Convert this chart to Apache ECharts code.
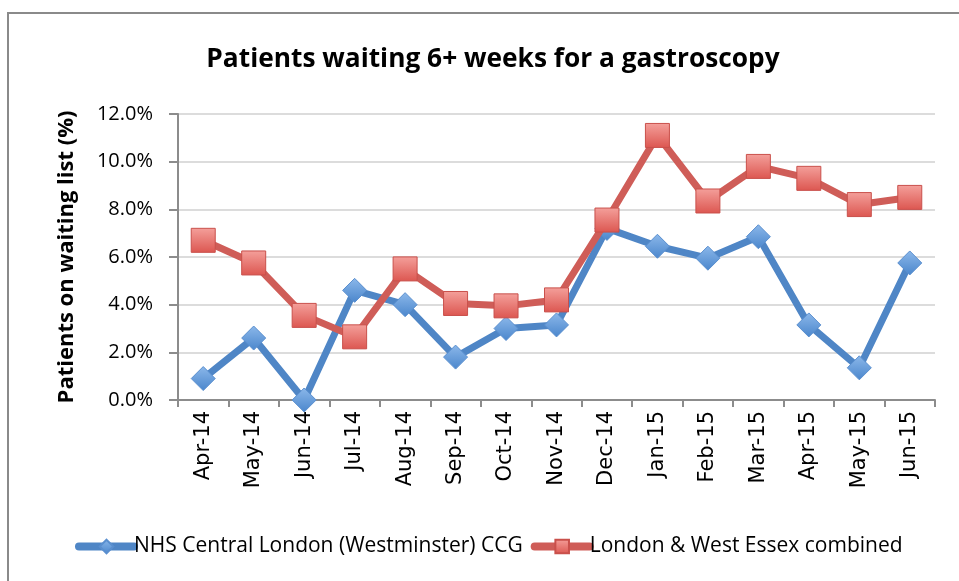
<!DOCTYPE html>
<html>
<head>
<meta charset="utf-8">
<script src="https://cdn.jsdelivr.net/npm/echarts@6/dist/echarts.min.js"></script>
<style>
  html, body { margin: 0; padding: 0; background: #fff; }
  #chart { width: 959px; height: 581px; }
</style>
</head>
<body>
<div id="chart"></div>
<script>
const months = ["Apr-14", "May-14", "Jun-14", "Jul-14", "Aug-14", "Sep-14", "Oct-14", "Nov-14", "Dec-14", "Jan-15", "Feb-15", "Mar-15", "Apr-15", "May-15", "Jun-15"];
const centralLondon = [0.9, 2.6, 0.0, 4.6, 4.0, 1.8, 3.0, 3.15, 7.2, 6.45, 5.95, 6.85, 3.15, 1.35, 5.75];
const westEssex = [6.7, 5.75, 3.55, 2.65, 5.5, 4.05, 3.95, 4.2, 7.55, 11.1, 8.35, 9.8, 9.3, 8.2, 8.5];
const seriesNames = ["NHS Central London (Westminster) CCG", "London & West Essex combined"];

const font = "'Open Sans', 'Noto Sans', sans-serif";
const blue = "#4f86c6";
const red = "#cf5d58";
const chart = echarts.init(document.getElementById("chart"), null, { renderer: "canvas" });

const blueMarker = new echarts.graphic.LinearGradient(0, 0, 0, 1, [
  { offset: 0, color: "#8cb8ea" }, { offset: 1, color: "#4a86cc" }
]);
const redMarker = new echarts.graphic.LinearGradient(0, 0, 0, 1, [
  { offset: 0, color: "#f4a09b" }, { offset: 1, color: "#dc5650" }
]);

chart.setOption({
  animation: false,
  backgroundColor: "#fff",
  title: {
    text: "Patients waiting 6+ weeks for a gastroscopy",
    left: 488, top: 42, textAlign: "center",
    textStyle: { fontFamily: font, fontSize: 26.3, fontWeight: "bold", color: "#000" }
  },
  graphic: [{
    type: "rect", shape: { x: 8, y: 13, width: 1000, height: 1000 },
    style: { fill: "none", stroke: "#8a8a8a", lineWidth: 2 }, silent: true
  }],
  legend: {
    top: 531, left: 70, itemGap: 8, itemWidth: 55, itemHeight: 17,
    lineStyle: { width: 8, cap: "round" },
    textStyle: { fontFamily: font, fontSize: 21, color: "#000", padding: [0, 0, 0, -5] },
    data: seriesNames
  },
  grid: { left: 178, right: 24, top: 114, bottom: 181, containLabel: false },
  xAxis: {
    type: "category",
    data: months,
    boundaryGap: true,
    axisLine: { lineStyle: { color: "#8c8c8c", width: 2 } },
    axisTick: { show: true, length: 7, inside: false, lineStyle: { color: "#8c8c8c", width: 2 } },
    axisLabel: { rotate: 90, interval: 0, margin: 11, fontFamily: "'DejaVu Sans', sans-serif", fontSize: 21, color: "#000" }
  },
  yAxis: {
    type: "value",
    min: 0, max: 12, interval: 2,
    name: "Patients on waiting list (%)",
    nameLocation: "middle", nameGap: 100, nameRotate: 90,
    nameTextStyle: { fontFamily: font, fontSize: 22, fontWeight: "bold", color: "#000" },
    axisLine: { show: true, lineStyle: { color: "#8c8c8c", width: 2 } },
    axisTick: { show: true, length: 9, lineStyle: { color: "#8c8c8c", width: 2 } },
    axisLabel: { formatter: v => v.toFixed(1) + "%", margin: 25, fontFamily: font, fontSize: 20, color: "#000" },
    splitLine: { lineStyle: { color: "#dcdcdc", width: 2 } }
  },
  series: [
    {
      name: seriesNames[0], type: "line", data: centralLondon,
      symbol: "diamond", symbolSize: 24,
      lineStyle: { color: blue, width: 7 },
      itemStyle: { color: blueMarker, borderColor: "#5a8fcf", borderWidth: 1 },
      z: 2
    },
    {
      name: seriesNames[1], type: "line", data: westEssex,
      symbol: "rect", symbolSize: 24,
      lineStyle: { color: red, width: 7 },
      itemStyle: { color: redMarker, borderColor: "#c9504b", borderWidth: 1 },
      z: 3
    }
  ]
});
</script>
</body>
</html>
